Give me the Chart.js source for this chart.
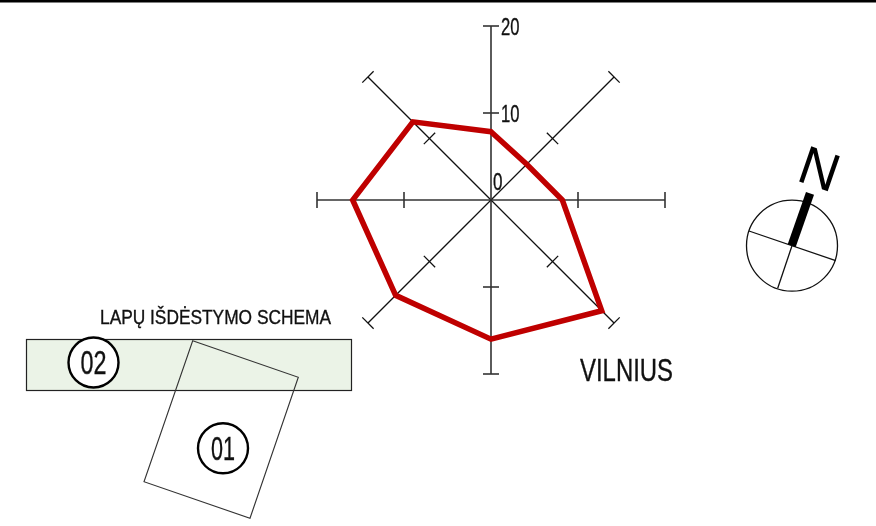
<!DOCTYPE html>
<html>
<head>
<meta charset="utf-8">
<title>Vėjų rožė</title>
<script src="https://cdn.jsdelivr.net/npm/chart.js@4"></script>
<style>
  html, body { margin: 0; padding: 0; background: #fff; }
  canvas { display: block; }
</style>
</head>
<body>
<canvas id="grafikas" width="876" height="526"></canvas>
<script>
const krypciu = ["Š", "ŠR", "R", "PR", "P", "PV", "V", "ŠV"];
const vejas = [7.85, 5.8, 8.2, 18, 16, 15.5, 15.9, 12.7];
const skaleTicks = [0, 10, 20];
const miestas = "VILNIUS";
const schemaTitle = "LAPŲ IŠDĖSTYMO SCHEMA";

// squeezes the text so it fills the width measured on the picture
function narrowText(ctx, text, left, baseline, size, width) {
  ctx.save();
  ctx.font = size + "px 'Liberation Sans'";
  ctx.textAlign = "left";
  ctx.textBaseline = "alphabetic";
  ctx.fillStyle = "#111";
  ctx.strokeStyle = "#111";
  ctx.lineWidth = 0.35;
  ctx.translate(left, baseline);
  ctx.scale(width / ctx.measureText(text).width, 1);
  ctx.fillText(text, 0, 0);
  ctx.strokeText(text, 0, 0);
  ctx.restore();
}

function numberedCircle(ctx, cx, cy, text, textWidth) {
  ctx.beginPath();
  ctx.arc(cx, cy, 25, 0, Math.PI * 2);
  ctx.fillStyle = "#fff";
  ctx.fill();
  ctx.lineWidth = 2.4;
  ctx.strokeStyle = "#000";
  ctx.stroke();
  narrowText(ctx, text, cx - textWidth / 2, cy + 11.5, 33, textWidth);
}

function polyLine(ctx, pts, closed) {
  ctx.beginPath();
  pts.forEach((p, i) => (i ? ctx.lineTo(p[0], p[1]) : ctx.moveTo(p[0], p[1])));
  if (closed) ctx.closePath();
  ctx.stroke();
}

const rodyklesPlugin = {
  id: "rodykles",
  // scale marks on the spokes and their numbers
  beforeDatasetsDraw(chart) {
    const ctx = chart.ctx;
    const r = chart.scales.r;
    ctx.save();
    krypciu.forEach((k, i) => {
      const angle = r.getIndexAngle(i);
      const straight = i % 2 === 0;
      skaleTicks.slice(1).forEach(v => {
        const p = r.getPointPositionForValue(i, v);
        const dx = Math.cos(angle) * 8;
        const dy = Math.sin(angle) * 8;
        ctx.beginPath();
        ctx.moveTo(p.x - dx, p.y - dy);
        ctx.lineTo(p.x + dx, p.y + dy);
        ctx.lineWidth = straight ? 1.6 : 1.3;
        ctx.strokeStyle = straight ? "#333" : "#111";
        ctx.stroke();
      });
    });
    skaleTicks.forEach(v => {
      const p = r.getPointPositionForValue(0, v);
      const left = v === 0 ? p.x + 2 : p.x + 10;
      const y = v === 0 ? p.y - 10 : p.y + 9;
      narrowText(ctx, String(v), left, y, 23, v === 0 ? 9.5 : 18.5);
    });
    ctx.restore();
  },
  // the layout sketch, city name and north sign around the chart
  afterDraw(chart) {
    const ctx = chart.ctx;
    ctx.save();
    ctx.fillStyle = "#000";
    ctx.fillRect(0, 0, 876, 2.5);

    narrowText(ctx, miestas, 580, 381, 31, 93);
    narrowText(ctx, schemaTitle, 100, 324, 20, 231);

    ctx.fillStyle = "#ebf3e7";
    ctx.fillRect(26.5, 339.5, 325, 51);
    ctx.lineWidth = 1.2;
    ctx.strokeStyle = "#222";
    ctx.strokeRect(26.5, 339.5, 325, 51);

    ctx.lineWidth = 1.1;
    ctx.strokeStyle = "#333";
    polyLine(ctx, [[192.7, 340.7], [298.3, 377.3], [250, 518.3], [144, 481.7]], true);

    numberedCircle(ctx, 93.5, 362.5, "02", 26);
    numberedCircle(ctx, 223, 448.3, "01", 24);

    ctx.beginPath();
    ctx.arc(792, 245.7, 45.5, 0, Math.PI * 2);
    ctx.lineWidth = 1.3;
    ctx.strokeStyle = "#111";
    ctx.stroke();
    polyLine(ctx, [[749, 231], [835.7, 260.7]]);
    polyLine(ctx, [[792, 245.7], [777.7, 288.3]]);
    ctx.lineWidth = 8.5;
    ctx.strokeStyle = "#000";
    polyLine(ctx, [[791.7, 245.7], [810, 193.3]]);

    ctx.translate(819.5, 168.3);
    ctx.rotate(19 * Math.PI / 180);
    ctx.font = "54px 'Liberation Sans'";
    ctx.textAlign = "center";
    ctx.textBaseline = "alphabetic";
    ctx.fillStyle = "#000";
    ctx.fillText("N", 0, 19);
    ctx.restore();
  },
};

const ctx = document.getElementById("grafikas").getContext("2d");
const grafikas = new Chart(ctx, {
  type: "radar",
  data: {
    labels: krypciu,
    datasets: [
      {
        data: vejas,
        borderColor: "#bf0000",
        borderWidth: 5.5,
        fill: false,
        tension: 0,
        pointRadius: 0,
        pointHoverRadius: 0,
      },
    ],
  },
  options: {
    responsive: false,
    animation: false,
    layout: {
      padding: { left: 317, right: 211, top: 26, bottom: 152 },
    },
    scales: {
      r: {
        min: 0,
        max: 20,
        ticks: { display: false, stepSize: 10 },
        grid: { display: false },
        pointLabels: { display: false },
        angleLines: {
          display: true,
          color: c => (c.index % 2 === 0 ? "#333" : "#111"),
          lineWidth: c => (c.index % 2 === 0 ? 1.6 : 1.3),
        },
      },
    },
    plugins: {
      legend: { display: false },
      tooltip: { enabled: false },
    },
  },
  plugins: [rodyklesPlugin],
});
</script>
</body>
</html>
